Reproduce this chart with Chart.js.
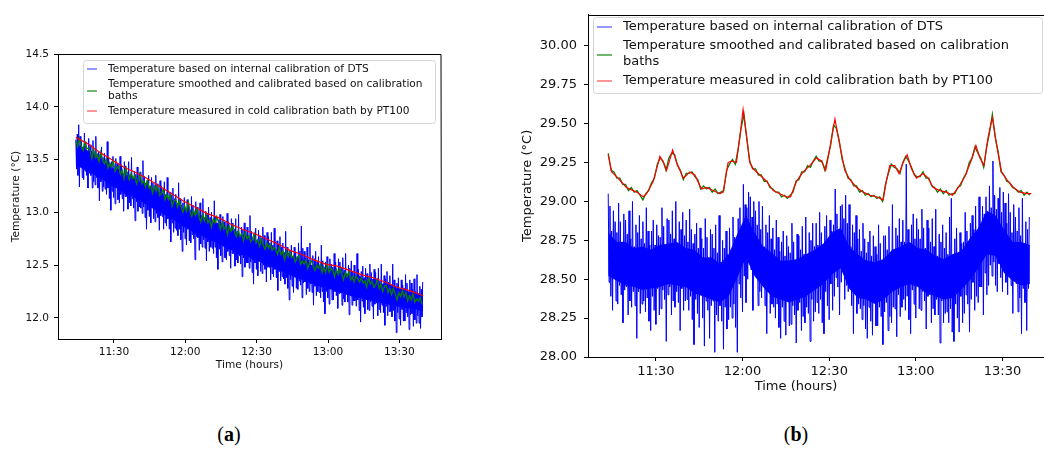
<!DOCTYPE html>
<html>
<head>
<meta charset="utf-8">
<script src="https://cdn.jsdelivr.net/npm/chart.js@4.4.1/dist/chart.umd.min.js"></script>
<style>
  html, body { margin: 0; padding: 0; background: #fff; }
  body { width: 1044px; height: 451px; overflow: hidden; position: relative; }
  #wrapA { position: absolute; left: 0; top: 0; width: 460px; height: 380px; }
  #wrapB { position: absolute; left: 510px; top: 0; width: 560px; height: 400px; }
  .cap { position: absolute; top: 423px; width: 60px; text-align: center;
         font-family: "Liberation Serif", "DejaVu Serif", serif; font-size: 20px; color: #000; }
</style>
</head>
<body>
<div id="wrapA"><canvas id="chartA" width="460" height="380"></canvas></div>
<div id="wrapB"><canvas id="chartB" width="560" height="400"></canvas></div>
<div class="cap" style="left:199px">(<b>a</b>)</div>
<div class="cap" style="left:766px">(<b>b</b>)</div>
<script>
// time axis in minutes after 11:00
const xMin = 6.5, xMax = 167.5;
const tickMinutes = [30, 60, 90, 120, 150];
const tickLabels = ["11:30", "12:00", "12:30", "13:00", "13:30"];

const legendLabels = [
  ["Temperature based on internal calibration of DTS"],
  ["Temperature smoothed and calibrated based on calibration", "baths"],
  ["Temperature measured in cold calibration bath by PT100"]
];

// ---- panel (a) ----
const yTicksA = [12.0, 12.5, 13.0, 13.5, 14.0, 14.5];

// DTS raw readings, one every 0.3 min
const blueStartA = 14, blueStepA = 0.3;
const blueA = [
  13.69, 13.41, 13.74, 13.35, 13.83, 13.24, 13.72, 13.44, 13.67, 13.33,
  13.62, 13.31, 13.75, 13.39, 13.67, 13.35, 13.58, 13.23, 13.70, 13.37,
  13.64, 13.35, 13.58, 13.23, 13.68, 13.29, 13.56, 13.26, 13.72, 13.33,
  13.49, 13.23, 13.58, 13.11, 13.55, 13.29, 13.62, 13.20, 13.52, 13.24,
  13.56, 13.22, 13.47, 13.17, 13.67, 13.23, 13.52, 13.13, 13.46, 13.02,
  13.48, 13.20, 13.53, 13.14, 13.42, 13.08, 13.51, 13.23, 13.46, 13.12,
  13.40, 13.09, 13.53, 13.17, 13.45, 13.13, 13.36, 13.01, 13.48, 13.15,
  13.44, 13.15, 13.38, 13.03, 13.48, 13.09, 13.36, 13.06, 13.52, 13.13,
  13.30, 13.04, 13.39, 12.92, 13.36, 13.10, 13.43, 13.01, 13.33, 13.05,
  13.38, 13.04, 13.29, 12.99, 13.49, 13.05, 13.34, 12.95, 13.28, 12.84,
  13.30, 13.02, 13.35, 12.96, 13.24, 12.90, 13.33, 13.05, 13.28, 12.94,
  13.22, 12.91, 13.35, 12.99, 13.27, 12.95, 13.18, 12.83, 13.30, 12.97,
  13.25, 12.96, 13.19, 12.84, 13.29, 12.90, 13.17, 12.87, 13.33, 12.94,
  13.10, 12.84, 13.19, 12.72, 13.16, 12.90, 13.23, 12.81, 13.13, 12.85,
  13.17, 12.83, 13.08, 12.78, 13.28, 12.84, 13.13, 12.74, 13.07, 12.63,
  13.09, 12.81, 13.14, 12.75, 13.03, 12.69, 13.12, 12.84, 13.07, 12.73,
  13.02, 12.71, 13.15, 12.79, 13.07, 12.75, 12.98, 12.55, 13.10, 12.77,
  13.05, 12.76, 12.99, 12.64, 13.09, 12.70, 12.97, 12.67, 13.13, 12.74,
  12.92, 12.66, 13.01, 12.54, 12.98, 12.72, 13.05, 12.63, 12.95, 12.67,
  13.00, 12.66, 12.91, 12.61, 13.11, 12.67, 12.96, 12.57, 12.90, 12.46,
  12.93, 12.65, 12.98, 12.59, 12.87, 12.53, 12.96, 12.68, 12.91, 12.57,
  12.86, 12.55, 12.99, 12.63, 12.91, 12.59, 12.82, 12.47, 12.94, 12.61,
  12.90, 12.61, 12.84, 12.49, 12.94, 12.55, 12.82, 12.52, 12.98, 12.59,
  12.77, 12.51, 12.86, 12.39, 12.83, 12.57, 12.90, 12.48, 12.80, 12.52,
  12.86, 12.52, 12.77, 12.47, 12.97, 12.53, 12.82, 12.43, 12.76, 12.32,
  12.80, 12.52, 12.85, 12.46, 12.74, 12.40, 12.83, 12.55, 12.78, 12.44,
  12.73, 12.42, 12.86, 12.50, 12.78, 12.46, 12.69, 12.34, 12.81, 12.48,
  12.77, 12.48, 12.71, 12.36, 12.81, 12.42, 12.69, 12.39, 12.85, 12.46,
  12.64, 12.38, 12.73, 12.26, 12.70, 12.44, 12.77, 12.35, 12.67, 12.39,
  12.71, 12.37, 12.62, 12.32, 12.82, 12.38, 12.67, 12.28, 12.61, 12.17,
  12.64, 12.36, 12.69, 12.30, 12.58, 12.24, 12.67, 12.39, 12.62, 12.28,
  12.58, 12.27, 12.71, 12.35, 12.63, 12.31, 12.87, 12.19, 12.66, 12.33,
  12.63, 12.34, 12.57, 12.22, 12.67, 12.28, 12.55, 12.25, 12.71, 12.32,
  12.50, 12.24, 12.59, 12.12, 12.56, 12.30, 12.63, 12.21, 12.53, 12.25,
  12.58, 12.24, 12.49, 12.19, 12.69, 12.25, 12.54, 12.15, 12.48, 12.04,
  12.53, 12.25, 12.58, 12.19, 12.47, 12.13, 12.56, 12.28, 12.51, 12.17,
  12.48, 12.17, 12.61, 12.25, 12.53, 12.21, 12.44, 12.09, 12.56, 12.23,
  12.53, 12.24, 12.47, 12.12, 12.57, 12.18, 12.45, 12.15, 12.61, 12.22,
  12.41, 12.15, 12.50, 12.03, 12.47, 12.21, 12.54, 12.12, 12.44, 12.16,
  12.50, 12.16, 12.41, 12.11, 12.61, 12.17, 12.46, 12.07, 12.40, 11.96,
  12.44, 12.16, 12.49, 12.10, 12.38, 12.04, 12.47, 12.19, 12.42, 12.08,
  12.38, 12.07, 12.51, 12.15, 12.43, 12.11, 12.34, 11.99, 12.46, 12.13,
  12.43, 12.14, 12.37, 12.02, 12.47, 12.08, 12.35, 12.05, 12.51, 12.12,
  12.31, 12.05, 12.40, 11.93, 12.37, 12.11, 12.44, 12.02, 12.34, 12.06,
  12.40, 12.06, 12.31, 12.01, 12.51, 12.07, 12.36, 11.97, 12.30, 11.86,
  12.33, 12.05, 12.38, 11.99, 12.27, 11.93, 12.36, 12.08, 12.31, 11.97,
  12.28, 11.97, 12.41, 12.05, 12.33, 12.01, 12.24, 11.89, 12.36, 12.03,
  12.33, 12.04, 12.27, 11.92, 12.37, 11.98, 12.25, 11.95, 12.41, 12.02,
  12.21, 11.95, 12.30, 11.90, 12.27, 12.01, 12.34
];

// limits of the dense (solid) part of the DTS band
const coreStartA = 14, coreStepA = 146 / 49;
const coreHighA = [
  13.66, 13.60, 13.58, 13.52, 13.49, 13.42, 13.41, 13.35, 13.34, 13.29,
  13.27, 13.21, 13.19, 13.13, 13.11, 13.04, 13.03, 12.97, 12.96, 12.91,
  12.90, 12.85, 12.84, 12.78, 12.79, 12.73, 12.73, 12.67, 12.67, 12.61,
  12.61, 12.55, 12.56, 12.50, 12.51, 12.45, 12.47, 12.42, 12.43, 12.38,
  12.40, 12.35, 12.37, 12.32, 12.33, 12.28, 12.28, 12.25, 12.24, 12.22
];
const coreLowA = [
  13.45, 13.41, 13.38, 13.34, 13.30, 13.25, 13.22, 13.17, 13.15, 13.11,
  13.07, 13.03, 13.00, 12.95, 12.92, 12.87, 12.84, 12.79, 12.77, 12.73,
  12.71, 12.67, 12.64, 12.60, 12.59, 12.55, 12.53, 12.49, 12.48, 12.44,
  12.41, 12.38, 12.36, 12.33, 12.31, 12.28, 12.27, 12.24, 12.23, 12.20,
  12.19, 12.17, 12.16, 12.14, 12.13, 12.11, 12.10, 12.09, 12.08, 12.06
];

const greenStartA = 14, greenStepA = 0.75;
const greenA = [
  13.68, 13.62, 13.70, 13.63, 13.59, 13.66, 13.60, 13.61,
  13.58, 13.51, 13.60, 13.52, 13.55, 13.48, 13.57, 13.49,
  13.46, 13.51, 13.42, 13.47, 13.43, 13.49, 13.39, 13.42,
  13.44, 13.36, 13.40, 13.32, 13.42, 13.36, 13.31, 13.37,
  13.32, 13.35, 13.27, 13.32, 13.37, 13.27, 13.30, 13.24,
  13.30, 13.23, 13.25, 13.18, 13.25, 13.20, 13.25, 13.16,
  13.18, 13.22, 13.12, 13.17, 13.12, 13.17, 13.06, 13.11,
  13.12, 13.05, 13.11, 13.05, 13.00, 13.06, 13.01, 13.10,
  13.01, 12.96, 13.02, 12.97, 13.03, 12.96, 12.91, 12.98,
  12.92, 12.98, 12.90, 12.93, 12.86, 12.94, 12.90, 12.96,
  12.90, 12.84, 12.91, 12.84, 12.87, 12.79, 12.87, 12.82,
  12.87, 12.81, 12.77, 12.83, 12.77, 12.80, 12.73, 12.81,
  12.75, 12.78, 12.72, 12.75, 12.80, 12.71, 12.74, 12.68,
  12.75, 12.69, 12.65, 12.71, 12.66, 12.70, 12.64, 12.67,
  12.65, 12.60, 12.67, 12.60, 12.63, 12.55, 12.63, 12.58,
  12.63, 12.57, 12.59, 12.53, 12.57, 12.59, 12.51, 12.54,
  12.51, 12.55, 12.47, 12.52, 12.54, 12.49, 12.45, 12.50,
  12.47, 12.51, 12.43, 12.48, 12.43, 12.51, 12.43, 12.47,
  12.45, 12.39, 12.46, 12.41, 12.47, 12.42, 12.36, 12.43,
  12.39, 12.44, 12.36, 12.39, 12.34, 12.40, 12.37, 12.34,
  12.38, 12.33, 12.35, 12.29, 12.38, 12.32, 12.35, 12.29,
  12.31, 12.36, 12.28, 12.32, 12.25, 12.30, 12.31, 12.24,
  12.28, 12.22, 12.28, 12.23, 12.17, 12.24, 12.20, 12.26,
  12.20, 12.24, 12.16, 12.21, 12.17, 12.23, 12.15, 12.18,
  12.16, 12.19, 12.13
];

const redTimesA = [14, 19, 24, 29, 34, 39, 44, 49, 54, 59, 64, 69, 74, 79, 84,
  89, 94, 99, 104, 109, 114, 119, 124, 129, 134, 139, 144, 149, 154, 160];
const redA = [13.71, 13.65, 13.57, 13.50, 13.43, 13.38, 13.32, 13.25, 13.18, 13.11,
  13.05, 12.99, 12.95, 12.89, 12.84, 12.80, 12.75, 12.70, 12.64, 12.60,
  12.55, 12.51, 12.49, 12.45, 12.41, 12.38, 12.34, 12.29, 12.26, 12.21];

// ---- panel (b) ----
const yTicksB = [28.00, 28.25, 28.50, 28.75, 29.00, 29.25, 29.50, 29.75, 30.00];

const blueStartB = 13.5, blueStepB = 0.3;
const blueB = [
  29.05, 28.48, 28.97, 28.39, 28.81, 28.30, 28.94, 28.53, 28.87, 28.36,
  28.80, 28.34, 28.99, 28.46, 28.87, 28.40, 28.74, 28.22, 28.92, 28.43,
  28.88, 28.45, 28.79, 28.27, 28.94, 28.36, 28.76, 28.32, 29.00, 28.42,
  28.71, 28.33, 28.85, 28.12, 28.80, 28.42, 28.91, 28.28, 28.76, 28.34,
  28.87, 28.36, 28.73, 28.29, 28.96, 28.38, 28.81, 28.23, 28.72, 28.17,
  28.81, 28.39, 28.88, 28.30, 28.72, 28.21, 28.85, 28.44, 28.78, 28.27,
  28.77, 28.31, 28.96, 28.43, 28.84, 28.37, 28.71, 28.10, 28.89, 28.40,
  28.88, 28.45, 28.79, 28.27, 28.94, 28.36, 28.76, 28.32, 29.00, 28.42,
  28.73, 28.35, 28.87, 28.17, 28.82, 28.44, 28.93, 28.30, 28.78, 28.36,
  28.88, 28.37, 28.74, 28.30, 28.95, 28.39, 28.82, 28.24, 28.73, 28.08,
  28.79, 28.37, 28.86, 28.28, 28.70, 28.19, 28.83, 28.42, 28.76, 28.25,
  28.70, 28.07, 28.89, 28.36, 28.77, 28.30, 28.64, 28.12, 28.82, 28.33,
  28.79, 28.36, 28.70, 28.03, 28.85, 28.27, 28.67, 28.23, 28.91, 28.33,
  28.61, 28.23, 28.75, 28.05, 28.70, 28.32, 28.81, 28.18, 28.66, 28.24,
  28.83, 28.32, 28.69, 28.25, 28.90, 28.34, 28.77, 28.19, 28.68, 28.03,
  28.89, 28.47, 28.96, 28.38, 28.80, 28.29, 29.11, 28.52, 28.98, 28.35,
  28.96, 28.50, 29.06, 28.62, 29.03, 28.56, 28.90, 28.30, 29.00, 28.59,
  28.94, 28.51, 28.85, 28.33, 29.00, 28.42, 28.82, 28.38, 28.97, 28.48,
  28.71, 28.33, 28.85, 28.15, 28.80, 28.42, 28.91, 28.28, 28.76, 28.34,
  28.83, 28.32, 28.69, 28.25, 28.88, 28.34, 28.77, 28.19, 28.68, 28.12,
  28.74, 28.32, 28.81, 28.23, 28.65, 28.14, 28.78, 28.37, 28.71, 28.20,
  28.67, 28.21, 28.86, 28.33, 28.74, 28.27, 28.61, 28.09, 28.79, 28.30,
  28.78, 28.35, 28.69, 28.17, 28.84, 28.26, 28.66, 28.22, 28.90, 28.32,
  28.66, 28.28, 28.80, 28.10, 28.75, 28.37, 28.86, 28.23, 28.71, 28.29,
  28.86, 28.35, 28.72, 28.28, 28.93, 28.37, 28.80, 28.22, 28.71, 28.15,
  28.84, 28.42, 28.91, 28.33, 28.75, 28.24, 28.88, 28.47, 28.81, 28.30,
  28.85, 28.39, 29.08, 28.51, 28.92, 28.45, 28.79, 28.27, 28.97, 28.48,
  28.98, 28.55, 28.89, 28.37, 29.04, 28.46, 28.86, 28.42, 28.98, 28.52,
  28.71, 28.33, 28.85, 28.15, 28.80, 28.42, 28.91, 28.28, 28.76, 28.34,
  28.82, 28.31, 28.68, 28.24, 28.86, 28.33, 28.76, 28.18, 28.67, 28.12,
  28.74, 28.32, 28.81, 28.23, 28.65, 28.14, 28.78, 28.37, 28.71, 28.20,
  28.66, 28.20, 28.85, 28.32, 28.73, 28.26, 28.60, 28.08, 28.78, 28.29,
  28.78, 28.35, 28.69, 28.17, 28.84, 28.26, 28.66, 28.22, 28.98, 28.32,
  28.69, 28.31, 28.83, 28.13, 28.78, 28.40, 28.89, 28.26, 28.74, 28.32,
  28.88, 28.37, 28.74, 28.30, 29.24, 28.39, 28.82, 28.24, 28.73, 28.15,
  28.85, 28.43, 28.92, 28.34, 28.76, 28.25, 28.89, 28.48, 28.82, 28.31,
  28.76, 28.30, 28.95, 28.42, 28.83, 28.36, 28.70, 28.18, 28.88, 28.39,
  28.83, 28.40, 28.74, 28.22, 28.89, 28.31, 28.71, 28.27, 28.95, 28.37,
  28.65, 28.27, 28.79, 28.09, 28.74, 28.36, 28.85, 28.22, 28.70, 28.28,
  28.80, 28.29, 28.66, 28.22, 28.90, 28.31, 29.02, 28.16, 28.65, 28.10,
  28.76, 28.34, 28.83, 28.25, 28.67, 28.16, 28.80, 28.39, 28.73, 28.22,
  28.74, 28.28, 28.93, 28.40, 28.81, 28.34, 28.68, 28.16, 28.86, 28.37,
  28.91, 28.48, 28.82, 28.30, 28.97, 28.39, 28.79, 28.35, 29.03, 28.45,
  28.83, 28.45, 28.97, 28.27, 28.92, 28.54, 29.03, 28.40, 28.88, 28.46,
  29.10, 28.59, 28.96, 28.52, 29.26, 28.61, 29.04, 28.46, 28.95, 28.42,
  29.02, 28.60, 29.09, 28.51, 28.93, 28.42, 29.06, 28.65, 28.99, 28.48,
  28.86, 28.40, 29.05, 28.52, 28.93, 28.46, 28.80, 28.28, 28.98, 28.49,
  28.90, 28.47, 28.81, 28.29, 28.96, 28.38, 28.78, 28.15, 29.02, 28.44,
  28.73, 28.35, 28.87, 28.17, 28.82, 28.44, 28.90
];

const coreStartB = 13.5, coreStepB = 146 / 49;
const coreHighB = [
  28.80, 28.74, 28.74, 28.70, 28.71, 28.69, 28.72, 28.73, 28.74, 28.70,
  28.69, 28.64, 28.64, 28.60, 28.66, 28.79, 28.91, 28.80, 28.71, 28.67,
  28.62, 28.62, 28.63, 28.66, 28.69, 28.73, 28.80, 28.83, 28.71, 28.66,
  28.62, 28.61, 28.63, 28.69, 28.71, 28.74, 28.70, 28.69, 28.65, 28.63,
  28.66, 28.68, 28.76, 28.83, 28.94, 28.91, 28.82, 28.74, 28.74, 28.72
];
const coreLowB = [
  28.52, 28.49, 28.46, 28.45, 28.43, 28.44, 28.45, 28.47, 28.46, 28.45,
  28.41, 28.39, 28.37, 28.35, 28.39, 28.51, 28.64, 28.52, 28.45, 28.39,
  28.37, 28.35, 28.37, 28.39, 28.43, 28.47, 28.53, 28.57, 28.44, 28.38,
  28.37, 28.34, 28.37, 28.42, 28.45, 28.47, 28.45, 28.41, 28.39, 28.37,
  28.38, 28.43, 28.49, 28.57, 28.66, 28.65, 28.54, 28.49, 28.46, 28.47
];

const greenStartB = 13.5, greenStepB = 1;
const greenB = [
  29.31, 29.20, 29.19, 29.15, 29.15, 29.11, 29.11, 29.07, 29.09, 29.06,
  29.07, 29.04, 29.01, 29.05, 29.07, 29.12, 29.15, 29.24, 29.28, 29.26,
  29.20, 29.28, 29.31, 29.30, 29.23, 29.20, 29.14, 29.18, 29.18, 29.19,
  29.16, 29.14, 29.08, 29.10, 29.08, 29.09, 29.06, 29.08, 29.05, 29.06,
  29.07, 29.20, 29.24, 29.27, 29.24, 29.34, 29.47, 29.56, 29.40, 29.26,
  29.21, 29.21, 29.17, 29.17, 29.13, 29.13, 29.09, 29.08, 29.06, 29.06,
  29.03, 29.04, 29.02, 29.04, 29.06, 29.13, 29.14, 29.19, 29.19, 29.23,
  29.22, 29.26, 29.29, 29.26, 29.26, 29.20, 29.28, 29.36, 29.49, 29.47,
  29.39, 29.27, 29.21, 29.15, 29.14, 29.10, 29.10, 29.06, 29.07, 29.04,
  29.05, 29.03, 29.04, 29.02, 29.03, 29.00, 29.11, 29.18, 29.24, 29.22,
  29.21, 29.18, 29.25, 29.29, 29.26, 29.22, 29.17, 29.16, 29.16, 29.19,
  29.15, 29.15, 29.10, 29.09, 29.06, 29.08, 29.05, 29.07, 29.04, 29.05,
  29.05, 29.09, 29.10, 29.15, 29.18, 29.25, 29.28, 29.35, 29.31, 29.28,
  29.22, 29.35, 29.44, 29.56, 29.41, 29.32, 29.19, 29.17, 29.13, 29.12,
  29.09, 29.08, 29.06, 29.07, 29.04, 29.06, 29.04
];

const redTimesB = [13.5, 14.7, 16.4, 19.8, 23.3, 25.6, 26.8, 29.1, 31.4, 32.9,
  33.7, 35.8, 37.2, 39.5, 41.8, 43.5, 45.8, 47.5, 49.8, 52.2,
  53.3, 55.0, 56.2, 57.9, 59.1, 60.2, 61.4, 62.5, 63.7, 66.0,
  68.3, 70.6, 72.9, 75.2, 76.6, 78.7, 81.0, 83.3, 85.6, 87.3,
  88.8, 90.2, 92.0, 93.7, 95.4, 97.2, 99.5, 101.8, 104.1, 106.4,
  108.7, 109.8, 111.0, 112.7, 114.2, 115.6, 117.0, 118.5, 120.2, 122.5,
  124.3, 126.0, 128.3, 130.6, 132.7, 134.7, 137.0, 139.3, 140.8, 142.2,
  143.6, 145.1, 146.5, 148.0, 149.7, 151.5, 153.8, 156.1, 158.5, 160.0];
const redB = [29.30, 29.19, 29.16, 29.09, 29.06, 29.03, 29.05, 29.13, 29.29, 29.24,
  29.20, 29.33, 29.25, 29.15, 29.19, 29.17, 29.08, 29.09, 29.07, 29.05,
  29.06, 29.25, 29.26, 29.25, 29.42, 29.59, 29.42, 29.25, 29.21, 29.17,
  29.13, 29.07, 29.05, 29.03, 29.03, 29.13, 29.19, 29.23, 29.28, 29.26,
  29.20, 29.34, 29.53, 29.36, 29.20, 29.14, 29.09, 29.06, 29.04, 29.03,
  29.01, 29.13, 29.23, 29.23, 29.18, 29.25, 29.30, 29.21, 29.15, 29.18,
  29.15, 29.09, 29.07, 29.06, 29.04, 29.09, 29.16, 29.27, 29.36, 29.28,
  29.23, 29.42, 29.54, 29.36, 29.19, 29.14, 29.09, 29.06, 29.05, 29.05];

// helpers to turn the arrays into {x,y} points
function seq(start, step, vals) {
  return vals.map((v, i) => ({ x: start + i * step, y: v }));
}
function pairs(times, vals) {
  return vals.map((v, i) => ({ x: times[i], y: v }));
}

// draws top/right spines, the boxed legend and (optionally) a shifted x title
const framePlugin = {
  id: "frame",
  afterDraw(chart, args, opts) {
    const ctx = chart.ctx;
    const a = chart.chartArea;
    ctx.save();
    ctx.strokeStyle = "#000";
    ctx.lineWidth = 1;
    ctx.beginPath();
    ctx.moveTo(Math.round(a.left), Math.round(a.top) + 0.5);
    ctx.lineTo(Math.round(a.right), Math.round(a.top) + 0.5);
    ctx.lineTo(Math.round(a.right) + 0.5, Math.round(a.bottom));
    ctx.stroke();

    const L = opts.legend;
    ctx.beginPath();
    ctx.roundRect(L.x + 0.5, L.y + 0.5, L.w, L.h, 3);
    ctx.fillStyle = "rgba(255,255,255,0.9)";
    ctx.fill();
    ctx.strokeStyle = "#d6d6d6";
    ctx.stroke();

    ctx.font = L.size + "px 'DejaVu Sans'";
    ctx.textBaseline = "middle";
    ctx.textAlign = "left";
    legendLabels.forEach((lines, i) => {
      const ds = chart.data.datasets[i];
      const row = L.rows[i];
      ctx.strokeStyle = ds.legendColor;
      ctx.lineWidth = 1.5;
      ctx.beginPath();
      ctx.moveTo(L.hx0, row.hy);
      ctx.lineTo(L.hx1, row.hy);
      ctx.stroke();
      ctx.fillStyle = "#111";
      lines.forEach((t, j) => ctx.fillText(t, L.tx, row.ty[j]));
    });

    if (opts.xTitle) {
      ctx.font = opts.xTitle.size + "px 'DejaVu Sans'";
      ctx.textAlign = "center";
      ctx.fillStyle = "#111";
      ctx.fillText(opts.xTitle.text, opts.xTitle.x, opts.xTitle.y);
    }
    ctx.restore();
  }
};

function makeChart(id, cfg) {
  const font = { family: "DejaVu Sans", size: cfg.font };
  return new Chart(document.getElementById(id), {
    type: "line",
    data: {
      datasets: [
        { label: legendLabels[0].join(" "), data: cfg.blue, borderColor: "rgb(0,0,255)",
          legendColor: "rgba(0,0,255,0.55)", borderWidth: cfg.blueWidth, order: 3 },
        { label: legendLabels[1].join(" "), data: cfg.green, borderColor: "rgb(0,128,0)",
          legendColor: "rgba(0,128,0,0.75)", borderWidth: 1.3, order: 2 },
        { label: legendLabels[2].join(" "), data: cfg.red, borderColor: "rgb(255,0,0)",
          legendColor: "rgba(255,0,0,0.55)", borderWidth: 1.2, order: 1 },
        // dense core of the DTS band, filled between its upper and lower limit
        { label: "core high", data: cfg.coreHigh, borderWidth: 0, borderColor: "rgba(0,0,0,0)",
          backgroundColor: "rgb(0,0,255)", fill: "+1", order: 4 },
        { label: "core low", data: cfg.coreLow, borderWidth: 0, borderColor: "rgba(0,0,0,0)",
          fill: false, order: 5 }
      ]
    },
    options: {
      responsive: false,
      animation: false,
      devicePixelRatio: 1,
      events: [],
      elements: { point: { radius: 0 }, line: { tension: 0 } },
      layout: { padding: cfg.padding },
      plugins: {
        legend: { display: false },
        tooltip: { enabled: false },
        filler: { propagate: false },
        frame: { legend: cfg.legend, xTitle: cfg.xTitle }
      },
      scales: {
        x: {
          type: "linear",
          min: xMin,
          max: xMax,
          afterBuildTicks: s => { s.ticks = tickMinutes.map(v => ({ value: v })); },
          afterFit: s => { s.height = cfg.xHeight; },
          ticks: { font: font, color: "#111", padding: cfg.xPad, maxRotation: 0, autoSkip: false,
                   callback: (v, i) => tickLabels[i] },
          grid: { drawOnChartArea: false, tickLength: 4, color: "#000" },
          border: { color: "#000", width: 1 },
          title: { display: !cfg.xTitle, text: "Time (hours)", font: font, color: "#111",
                   padding: { top: 0, bottom: cfg.xTitlePad } }
        },
        y: {
          min: cfg.yMin,
          max: cfg.yMax,
          afterBuildTicks: s => { s.ticks = cfg.yTicks.map(v => ({ value: v })); },
          afterFit: s => { s.width = cfg.yWidth; },
          ticks: { font: font, color: "#111", padding: cfg.yPad,
                   callback: v => v.toFixed(cfg.dec) },
          grid: { drawOnChartArea: false, tickLength: 4, color: "#000" },
          border: { color: "#000", width: 1 },
          title: { display: true, text: "Temperature (°C)", font: font, color: "#111",
                   padding: { top: cfg.yTitlePad, bottom: 0 } }
        }
      }
    },
    plugins: [framePlugin]
  });
}

makeChart("chartA", {
  blue: seq(blueStartA, blueStepA, blueA),
  coreHigh: seq(coreStartA, coreStepA, coreHighA),
  coreLow: seq(coreStartA, coreStepA, coreLowA),
  green: seq(greenStartA, greenStepA, greenA),
  red: pairs(redTimesA, redA),
  blueWidth: 1,
  font: 10.6, yMin: 11.8, yMax: 14.5, yTicks: yTicksA, dec: 1,
  padding: { top: 54, right: 19, left: 0, bottom: 0 },
  xHeight: 41, yWidth: 58, xPad: 3, yPad: 5, xTitlePad: 8, yTitlePad: 9.6,
  legend: { x: 83, y: 60, w: 352, h: 63, size: 10.6, tx: 108, hx0: 87, hx1: 97,
            rows: [{ hy: 69, ty: [69] }, { hy: 91, ty: [84, 96] }, { hy: 111, ty: [111] }] }
});

makeChart("chartB", {
  blue: seq(blueStartB, blueStepB, blueB),
  coreHigh: seq(coreStartB, coreStepB, coreHighB),
  coreLow: seq(coreStartB, coreStepB, coreLowB),
  green: seq(greenStartB, greenStepB, greenB),
  red: pairs(redTimesB, redB),
  blueWidth: 1,
  font: 13, yMin: 28.0, yMax: 30.2, yTicks: yTicksB, dec: 2,
  padding: { top: 11, right: 17, left: 0, bottom: 0 },
  xHeight: 43, yWidth: 78, xPad: 3, yPad: 7, xTitlePad: 6, yTitlePad: 10,
  legend: { x: 83, y: 17, w: 449, h: 76, size: 13, tx: 113, hx0: 87, hx1: 102,
            rows: [{ hy: 27, ty: [27] }, { hy: 55, ty: [46, 62] }, { hy: 81, ty: [81] }] },
  xTitle: { text: "Time (hours)", x: 286, y: 387, size: 13 }
});
</script>
</body>
</html>
